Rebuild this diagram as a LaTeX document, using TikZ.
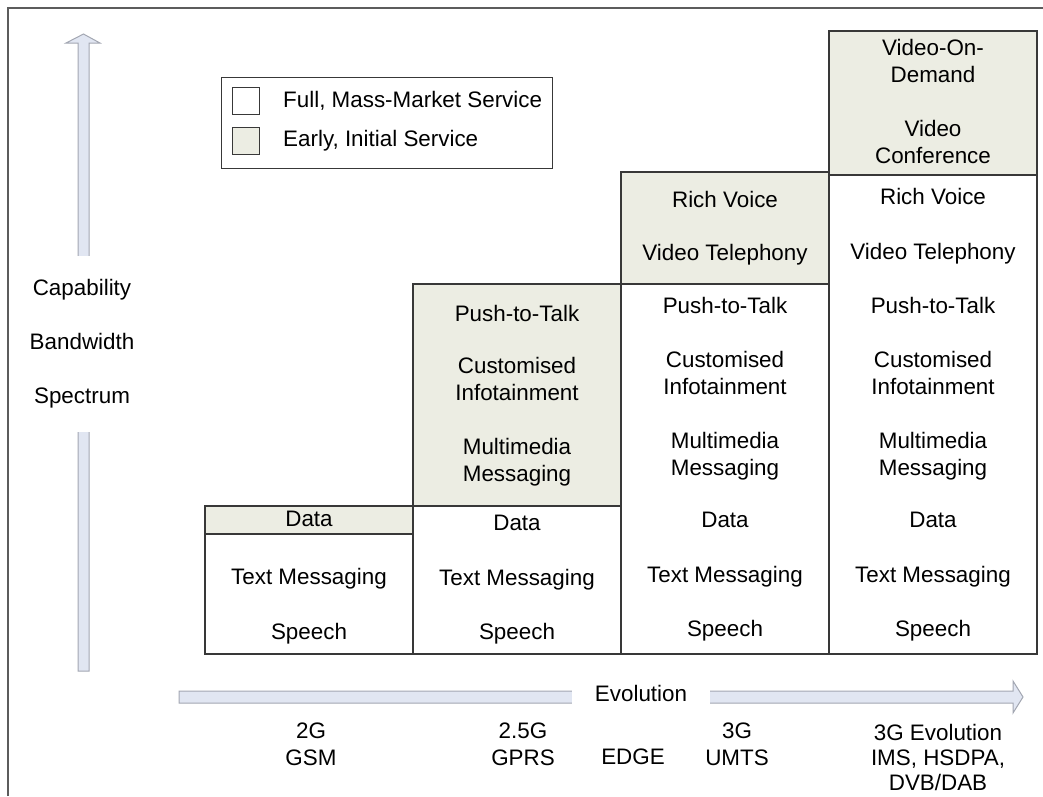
\documentclass[tikz,border=0pt]{standalone}
\usepackage{fontspec}
\setmainfont{Liberation Sans}
\definecolor{earlyfill}{HTML}{ECEDE3}
\definecolor{arrowfill}{HTML}{E1E6F2}
\definecolor{arrowline}{HTML}{A3A7B2}
\definecolor{boxline}{HTML}{383838}
\definecolor{frameline}{HTML}{5C5C5C}
\begin{document}
\begin{tikzpicture}[x=1pt,y=-1pt,
  every node/.style={font=\fontsize{22.4pt}{27pt}\selectfont, text=black},
  cell/.style={draw=boxline, line width=1.3pt, inner sep=0pt, outer sep=0pt,
    anchor=north west, minimum width=208pt},
  full/.style={cell, fill=white},
  early/.style={cell, fill=earlyfill},
  item/.style={anchor=north, inner sep=0pt, align=center},
  keybox/.style={draw=boxline, line width=1pt, minimum size=27pt, inner sep=0pt,
    anchor=north west},
  blockarrow/.style={draw=arrowline, fill=arrowfill, line width=1pt, line join=miter}]
\useasboundingbox (0,0) rectangle (1043,796);

% frame
\draw[frameline, line width=1.5pt] (8,796) -- (8,8) -- (1043,8);

% capability axis (vertical block arrow)
\draw[blockarrow] (78,671) -- (78,43) -- (66,43) -- (83.5,34) -- (100,43)
  -- (89,43) -- (89,671) -- cycle;
% evolution axis (horizontal block arrow)
\draw[blockarrow] (179,691) -- (1013,691) -- (1013,681) -- (1023,697)
  -- (1013,713) -- (1013,703) -- (179,703) -- cycle;

\node[fill=white, align=center, minimum height=176pt, inner sep=2pt] (axislabel)
  at (82,344) {Capability\\[27pt]Bandwidth\\[27pt]Spectrum};
\node[fill=white, minimum width=138pt, minimum height=22pt, inner sep=0pt] (evo)
  at (641,693) {Evolution};

% generation labels
\node[item] (g2)  at (311,723) {2G\\GSM};
\node[item] (g25) at (523,723) {2.5G\\GPRS};
\node[item] (edge) at (633,749) {EDGE};
\node[item] (g3)  at (737,723) {3G\\UMTS};
\node[item, font=\fontsize{22.4pt}{25pt}\selectfont] (g3e) at (938,724)
  {3G Evolution\\IMS, HSDPA,\\DVB/DAB};

% service columns
\node[early, minimum height=28pt]  (c1e) at (205,506) {};
\node[full,  minimum height=120pt] (c1f) at (205,534) {};
\node[early, minimum height=222pt] (c2e) at (413,284) {};
\node[full,  minimum height=148pt] (c2f) at (413,506) {};
\node[early, minimum height=112pt] (c3e) at (621,172) {};
\node[full,  minimum height=370pt] (c3f) at (621,284) {};
\node[early, minimum height=144pt] (c4e) at (829,31) {};
\node[full,  minimum height=479pt] (c4f) at (829,175) {};

% 2G
\node[item] (s1a) at (309,511) {Data};
\node[item] (s1b) at (309,568) {Text Messaging};
\node[item] (s1c) at (309,623) {Speech};
% 2.5G
\node[item] (s2a) at (517,305) {Push-to-Talk};
\node[item] (s2b) at (517,357) {Customised\\Infotainment};
\node[item] (s2c) at (517,438) {Multimedia\\Messaging};
\node[item] (s2d) at (517,515) {Data};
\node[item] (s2e) at (517,569) {Text Messaging};
\node[item] (s2f) at (517,623) {Speech};
% 3G
\node[item] (s3a) at (725,191) {Rich Voice};
\node[item] (s3b) at (725,244) {Video Telephony};
\node[item] (s3c) at (725,297) {Push-to-Talk};
\node[item] (s3d) at (725,351) {Customised\\Infotainment};
\node[item] (s3e) at (725,432) {Multimedia\\Messaging};
\node[item] (s3f) at (725,512) {Data};
\node[item] (s3g) at (725,566) {Text Messaging};
\node[item] (s3h) at (725,620) {Speech};
% 3G evolution
\node[item] (s4a) at (933,39)  {Video-On-\\Demand};
\node[item] (s4b) at (933,120) {Video\\Conference};
\node[item] (s4c) at (933,188) {Rich Voice};
\node[item] (s4d) at (933,243) {Video Telephony};
\node[item] (s4e) at (933,297) {Push-to-Talk};
\node[item] (s4f) at (933,351) {Customised\\Infotainment};
\node[item] (s4g) at (933,432) {Multimedia\\Messaging};
\node[item] (s4h) at (933,512) {Data};
\node[item] (s4i) at (933,566) {Text Messaging};
\node[item] (s4j) at (933,620) {Speech};

% legend
\node[draw=boxline, line width=1.3pt, minimum width=331pt, minimum height=91pt,
  inner sep=0pt, anchor=north west] (legend) at (221,77) {};
\node[keybox, fill=white]     (keyfull)  at (232,87)  {};
\node[keybox, fill=earlyfill] (keyearly) at (232,127) {};
\node[anchor=west, inner sep=0pt] (keyfulltxt) at ([xshift=23pt]keyfull.east)
  {Full, Mass-Market Service};
\node[anchor=west, inner sep=0pt] (keyearlytxt) at ([xshift=23pt]keyearly.east)
  {Early, Initial Service};
\end{tikzpicture}
\end{document}
